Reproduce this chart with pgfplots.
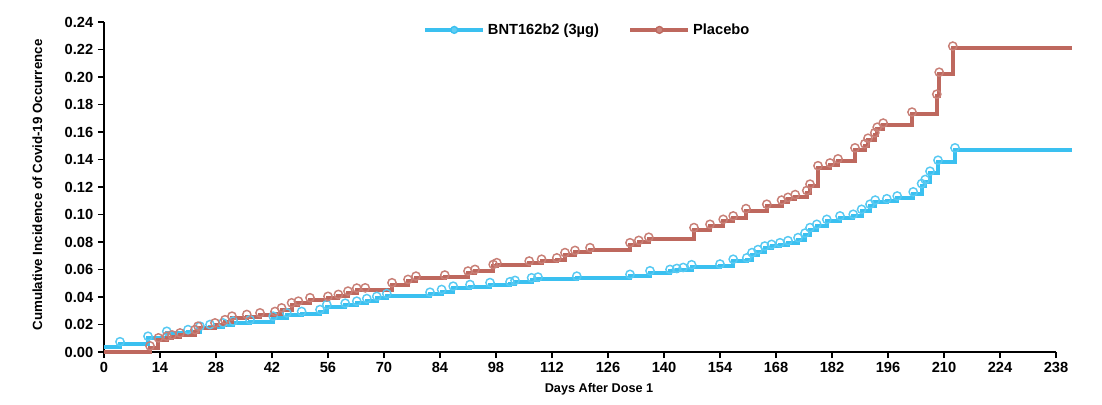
\documentclass[border=0pt]{standalone}
\usepackage{pgfplots}
\pgfplotsset{compat=1.18}
\usepackage{pgfplotstable}
\usepackage{fontspec}
\setmainfont{Liberation Sans}
\definecolor{cVax}{RGB}{58,192,240}
\definecolor{cPla}{RGB}{190,104,94}

% cumulative incidence, Placebo (day, value)
\pgfplotstableread{
day  ci
0      0
11.5   0.003
13.6   0.0088
15.7   0.010
17     0.011
19     0.0124
22.75  0.0148
23.5   0.0173
27.75  0.0197
30.25  0.022
32     0.0246
35.7   0.0258
39     0.027
42.75  0.028
44.4   0.0306
46.9   0.0343
48.6   0.0355
51.5   0.038
56     0.039
58.6   0.0404
61     0.0428
63.2   0.045
65.3   0.0452
72     0.0489
76     0.0513
78     0.0537
85.2   0.0545
91     0.0574
92.75  0.0586
97.3   0.0622
98.2   0.0635
106.3  0.0647
109.4  0.066
113.2  0.067
115.25 0.0708
117.75 0.0724
121.5  0.0744
131.5  0.078
133.7  0.0797
136.2  0.082
147.5  0.089
151.5  0.0914
154.8  0.095
157.3  0.0975
160.5  0.1028
165.7  0.106
169.4  0.109
171    0.111
172.8  0.113
175.7  0.116
176.5  0.1206
178.5  0.134
181.5  0.136
183.5  0.139
187.75 0.147
190.2  0.150
191    0.154
192.7  0.158
193.3  0.162
194.8  0.165
202    0.173
208.2  0.186
208.8  0.202
212.2  0.221
242    0.221
}\placebo

% cumulative incidence, BNT162b2 (3 ug)
\pgfplotstableread{
day  ci
0      0.004
4      0.006
11     0.010
15.7   0.0136
21     0.0148
24     0.0173
26.5   0.0185
29.75  0.0197
32.3   0.021
36.5   0.022
42.3   0.0246
45.7   0.027
49.4   0.028
54     0.0294
55.7   0.033
60.3   0.034
63.2   0.0355
65.7   0.0374
68.2   0.039
70.7   0.041
81.5   0.042
84.4   0.044
87.3   0.0464
91.5   0.0476
96.5   0.049
101.5  0.0496
102.75 0.0506
106.9  0.0525
108.5  0.053
118.2  0.0537
131.5  0.055
136.5  0.0576
141.5  0.0586
143.2  0.0593
144.8  0.060
146.9  0.062
154    0.0625
157.3  0.066
160.7  0.067
162    0.0708
163.5  0.073
165.2  0.0756
166.9  0.0768
169    0.078
171    0.0795
173.5  0.0817
175.25 0.085
176.5  0.089
178.2  0.0914
180.7  0.095
184    0.0975
187.3  0.0987
189.4  0.1023
191.5  0.106
192.8  0.109
195.7  0.110
198.3  0.112
202.3  0.115
204.4  0.121
205.3  0.124
206.5  0.130
208.5  0.138
212.75 0.147
242    0.147
}\vaccine

\begin{document}
\begin{tikzpicture}
\begin{axis}[
  scale only axis,
  width=714pt, height=247.5pt,
  xmin=0, xmax=238, ymin=0, ymax=0.24,
  clip=false,
  axis lines=left,
  axis line style={-, line width=1.1pt},
  tick style={black, line width=1.1pt},
  tick align=outside,
  major tick length=4.5pt,
  xtick={0,14,...,238},
  ytick={0,0.02,...,0.241},
  yticklabel style={/pgf/number format/fixed,/pgf/number format/zerofill,/pgf/number format/precision=2},
  /pgf/number format/assume math mode=true,
  tick label style={font=\fontsize{11}{12}\selectfont\bfseries},
  xlabel={Days After Dose 1},
  xlabel style={font=\fontsize{9.5}{11}\selectfont\bfseries, at={(axis description cs:0.52,-0.112)}, anchor=center},
  ylabel={Cumulative Incidence of Covid-19 Occurrence},
  ylabel style={font=\fontsize{10}{12}\selectfont\bfseries, at={(axis description cs:-0.070,0.506)}, anchor=center},
  legend columns=2,
  legend style={draw=none, fill=none, at={(0.508,0.976)}, anchor=center,
    font=\fontsize{11}{12}\selectfont\bfseries,
    /tikz/every even column/.append style={column sep=20pt}},
]
\addplot[cVax, line width=3pt, const plot,
  legend image code/.code={
    \draw[cVax, line width=3pt] (0cm,0cm) -- (1.53cm,0cm);
    \draw[cVax, line width=1pt, fill=cVax!80] (0.765cm,0cm) circle (2.6pt);}]
  table[x=day, y=ci] {\vaccine};
\addlegendentry{BNT162b2 (3µg)}
\addplot[cPla, line width=3pt, const plot,
  legend image code/.code={
    \draw[cPla, line width=3pt] (0cm,0cm) -- (1.53cm,0cm);
    \draw[cPla, line width=1pt, fill=cPla!80] (0.765cm,0cm) circle (2.6pt);}]
  table[x=day, y=ci] {\placebo};
\addlegendentry{Placebo}
\addplot[cVax!85, only marks, mark=o, mark size=3.1pt, mark options={line width=1.1pt, yshift=1.5pt},
  restrict x to domain=1:240, forget plot]
  table[x=day, y=ci] {\vaccine};
\addplot[cPla!85, only marks, mark=o, mark size=3.1pt, mark options={line width=1.1pt, yshift=1.5pt},
  restrict x to domain=1:240, forget plot]
  table[x=day, y=ci] {\placebo};
\end{axis}
\path (current axis.south west) ++(-78pt,-39pt);
\path (current axis.north east) ++(34.5pt,16.5pt);
\end{tikzpicture}
\end{document}
